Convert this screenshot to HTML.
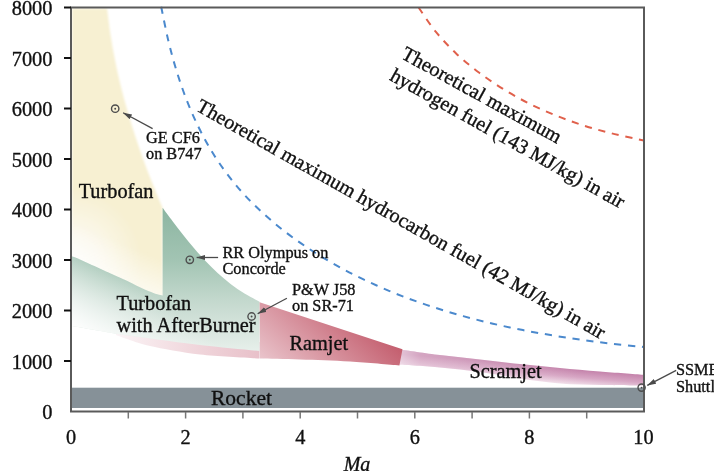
<!DOCTYPE html>
<html><head><meta charset="utf-8">
<style>
html,body{margin:0;padding:0;background:#fff;width:714px;height:471px;overflow:hidden}
svg{display:block;will-change:transform}
text{font-family:"Liberation Serif",serif;fill:#101010}
.t{stroke:#101010;stroke-width:0.35px}
</style></head>
<body>
<svg width="714" height="471" viewBox="0 0 714 471">
<defs>
<radialGradient id="gY" gradientUnits="userSpaceOnUse" cx="70" cy="262" r="72">
<stop offset="0" stop-color="#fdfcf8"/>
<stop offset="0.4" stop-color="#fbf8ec"/>
<stop offset="1" stop-color="#f7f0d2"/>
</radialGradient>
<linearGradient id="gYW" gradientUnits="userSpaceOnUse" x1="130" y1="246" x2="117" y2="276">
<stop offset="0" stop-color="#fff" stop-opacity="0"/>
<stop offset="1" stop-color="#fff" stop-opacity="0.6"/>
</linearGradient>
<filter id="fb" x="-5%" y="-5%" width="110%" height="110%"><feGaussianBlur stdDeviation="0.8"/></filter>
<linearGradient id="gG" gradientUnits="userSpaceOnUse" x1="0" y1="207" x2="0" y2="350">
<stop offset="0" stop-color="#8cb5a1"/>
<stop offset="0.37" stop-color="#a2c4b3"/>
<stop offset="0.65" stop-color="#c3d8cd"/>
<stop offset="1" stop-color="#e6efea"/>
</linearGradient>
<linearGradient id="gW" gradientUnits="userSpaceOnUse" x1="145" y1="290" x2="100" y2="350">
<stop offset="0" stop-color="#fff" stop-opacity="0"/>
<stop offset="1" stop-color="#fff" stop-opacity="1"/>
</linearGradient>
<linearGradient id="gP" gradientUnits="userSpaceOnUse" x1="115" y1="0" x2="260" y2="0">
<stop offset="0" stop-color="#fbf4f6"/>
<stop offset="0.5" stop-color="#f1d9de"/>
<stop offset="1" stop-color="#e8c0c9"/>
</linearGradient>
<linearGradient id="gR" gradientUnits="userSpaceOnUse" x1="251" y1="370.5" x2="328.7" y2="284.4">
<stop offset="0" stop-color="#efd3d9"/>
<stop offset="1" stop-color="#c45f6f"/>
</linearGradient>
<linearGradient id="gS" gradientUnits="userSpaceOnUse" x1="520" y1="364" x2="518.6" y2="381">
<stop offset="0" stop-color="#c27fa8"/>
<stop offset="0.5" stop-color="#d7a6c4"/>
<stop offset="1" stop-color="#f4e6ee"/>
</linearGradient>
<linearGradient id="gSW" gradientUnits="userSpaceOnUse" x1="399" y1="0" x2="580" y2="0">
<stop offset="0" stop-color="#fff" stop-opacity="0.55"/>
<stop offset="0.12" stop-color="#fff" stop-opacity="0.3"/>
<stop offset="1" stop-color="#fff" stop-opacity="0"/>
</linearGradient>
<marker id="ah" markerWidth="9" markerHeight="6" refX="8.7" refY="3" orient="auto" markerUnits="userSpaceOnUse">
<path d="M0,0.4 L9,3 L0,5.6 Z" fill="#4a4a4a"/>
</marker>
</defs>

<path d="M72 8.5 L107.1 8.5 C107.7 12.8 109.2 25.8 110.5 34.4 C111.8 43.0 113.3 51.5 115.0 60.0 C116.7 68.5 118.5 76.9 120.6 85.3 C122.6 93.7 124.9 102.0 127.3 110.3 C129.7 118.6 132.2 126.9 134.9 135.1 C137.6 143.3 140.4 151.5 143.3 159.6 C146.2 167.7 149.4 175.8 152.6 183.8 C155.8 191.8 160.9 203.8 162.6 207.8 L162.6 295.6 C161.7 295.4 159.7 295.0 157.4 294.3 C155.1 293.6 151.8 292.4 149.0 291.3 C146.2 290.2 143.3 288.8 140.5 287.5 C137.7 286.2 134.8 284.7 132.0 283.3 C129.2 281.9 126.8 280.7 123.5 279.2 C120.2 277.7 115.7 275.8 112.4 274.3 C109.2 272.9 106.8 271.8 104.0 270.5 C101.2 269.2 98.3 267.9 95.5 266.6 C92.7 265.3 89.8 264.1 87.0 262.8 C84.2 261.5 81.0 259.8 78.5 258.7 C76.0 257.6 73.1 256.9 72.0 256.5 Z" fill="url(#gY)" filter="url(#fb)"/>
<path d="M72 8.5 L107.1 8.5 C107.7 12.8 109.2 25.8 110.5 34.4 C111.8 43.0 113.3 51.5 115.0 60.0 C116.7 68.5 118.5 76.9 120.6 85.3 C122.6 93.7 124.9 102.0 127.3 110.3 C129.7 118.6 132.2 126.9 134.9 135.1 C137.6 143.3 140.4 151.5 143.3 159.6 C146.2 167.7 149.4 175.8 152.6 183.8 C155.8 191.8 160.9 203.8 162.6 207.8 L162.6 295.6 C161.7 295.4 159.7 295.0 157.4 294.3 C155.1 293.6 151.8 292.4 149.0 291.3 C146.2 290.2 143.3 288.8 140.5 287.5 C137.7 286.2 134.8 284.7 132.0 283.3 C129.2 281.9 126.8 280.7 123.5 279.2 C120.2 277.7 115.7 275.8 112.4 274.3 C109.2 272.9 106.8 271.8 104.0 270.5 C101.2 269.2 98.3 267.9 95.5 266.6 C92.7 265.3 89.8 264.1 87.0 262.8 C84.2 261.5 81.0 259.8 78.5 258.7 C76.0 257.6 73.1 256.9 72.0 256.5 Z" fill="url(#gYW)" filter="url(#fb)"/>
<path d="M116 330 L259.6 342 L259.6 358.5 C249.7 357.8 218.3 356.6 200.0 354.5 C181.7 352.4 162.2 348.6 150.0 346.0 C137.8 343.4 132.7 340.8 127.0 339.0 C121.3 337.2 117.8 335.7 116.0 335.0 Z" fill="url(#gP)"/>
<path d="M72.0 256.5 C73.1 256.9 76.0 257.6 78.5 258.7 C81.0 259.8 84.2 261.5 87.0 262.8 C89.8 264.1 92.7 265.3 95.5 266.6 C98.3 267.9 101.2 269.2 104.0 270.5 C106.8 271.8 109.2 272.9 112.4 274.3 C115.7 275.8 120.2 277.7 123.5 279.2 C126.8 280.7 129.2 281.9 132.0 283.3 C134.8 284.7 137.7 286.2 140.5 287.5 C143.3 288.8 146.2 290.2 149.0 291.3 C151.8 292.4 155.1 293.6 157.4 294.3 C159.7 295.0 161.7 295.4 162.6 295.6 L162.6 207.8 C164.3 210.1 169.4 216.9 172.8 221.4 C176.2 225.9 179.6 230.4 183.2 234.9 C186.8 239.4 190.4 243.9 194.1 248.2 C197.8 252.5 201.6 256.8 205.5 260.9 C209.4 265.0 213.4 269.1 217.6 272.9 C221.8 276.7 226.1 280.4 230.6 283.9 C235.1 287.3 239.7 290.6 244.5 293.6 C249.3 296.6 257.1 300.4 259.6 301.8 L259.6 351 C249.7 350.0 219.9 347.3 200.0 345.0 C180.1 342.7 153.7 338.8 140.0 337.0 C126.3 335.2 129.3 335.8 118.0 334.0 C106.7 332.2 79.7 327.3 72.0 326.0 Z" fill="url(#gG)"/>
<path d="M72.0 256.5 C73.1 256.9 76.0 257.6 78.5 258.7 C81.0 259.8 84.2 261.5 87.0 262.8 C89.8 264.1 92.7 265.3 95.5 266.6 C98.3 267.9 101.2 269.2 104.0 270.5 C106.8 271.8 109.2 272.9 112.4 274.3 C115.7 275.8 120.2 277.7 123.5 279.2 C126.8 280.7 129.2 281.9 132.0 283.3 C134.8 284.7 137.7 286.2 140.5 287.5 C143.3 288.8 146.2 290.2 149.0 291.3 C151.8 292.4 155.1 293.6 157.4 294.3 C159.7 295.0 161.7 295.4 162.6 295.6 L162.6 207.8 C164.3 210.1 169.4 216.9 172.8 221.4 C176.2 225.9 179.6 230.4 183.2 234.9 C186.8 239.4 190.4 243.9 194.1 248.2 C197.8 252.5 201.6 256.8 205.5 260.9 C209.4 265.0 213.4 269.1 217.6 272.9 C221.8 276.7 226.1 280.4 230.6 283.9 C235.1 287.3 239.7 290.6 244.5 293.6 C249.3 296.6 257.1 300.4 259.6 301.8 L259.6 351 C249.7 350.0 219.9 347.3 200.0 345.0 C180.1 342.7 153.7 338.8 140.0 337.0 C126.3 335.2 129.3 335.8 118.0 334.0 C106.7 332.2 79.7 327.3 72.0 326.0 Z" fill="url(#gW)"/>
<path d="M399.0 349.4 C405.8 350.3 426.5 353.3 440.0 355.0 C453.5 356.7 466.7 358.0 480.0 359.5 C493.3 361.0 506.7 362.6 520.0 364.0 C533.3 365.4 546.7 366.8 560.0 368.0 C573.3 369.2 586.2 370.4 600.0 371.5 C613.8 372.6 635.8 374.2 643.0 374.8 L643 385.5 C635.8 385.4 613.8 385.3 600.0 385.0 C586.2 384.7 573.3 384.6 560.0 383.5 C546.7 382.4 533.3 380.4 520.0 378.5 C506.7 376.6 493.3 373.8 480.0 372.0 C466.7 370.2 453.5 368.8 440.0 367.5 C426.5 366.2 405.8 365.0 399.0 364.5 Z" fill="url(#gS)"/>
<path d="M399.0 349.4 C405.8 350.3 426.5 353.3 440.0 355.0 C453.5 356.7 466.7 358.0 480.0 359.5 C493.3 361.0 506.7 362.6 520.0 364.0 C533.3 365.4 546.7 366.8 560.0 368.0 C573.3 369.2 586.2 370.4 600.0 371.5 C613.8 372.6 635.8 374.2 643.0 374.8 L643 385.5 C635.8 385.4 613.8 385.3 600.0 385.0 C586.2 384.7 573.3 384.6 560.0 383.5 C546.7 382.4 533.3 380.4 520.0 378.5 C506.7 376.6 493.3 373.8 480.0 372.0 C466.7 370.2 453.5 368.8 440.0 367.5 C426.5 366.2 405.8 365.0 399.0 364.5 Z" fill="url(#gSW)"/>
<path d="M259.6 302.3 L402.5 349.2 L399.4 365.5 C391.2 364.8 366.6 362.5 350.0 361.5 C333.4 360.5 315.0 360.0 300.0 359.5 C285.0 359.0 266.7 358.7 260.0 358.5 Z" fill="url(#gR)"/>
<rect x="72" y="387.7" width="571" height="20.3" fill="#869198"/>
<path d="M161.1 6.5 C162.3 12.0 165.6 29.2 168.1 39.7 C170.6 50.2 173.1 59.6 176.1 69.4 C179.1 79.2 182.4 89.0 186.1 98.6 C189.8 108.2 193.9 117.6 198.4 126.8 C202.9 136.0 207.8 145.0 213.1 153.6 C218.4 162.2 224.3 170.5 230.5 178.4 C236.7 186.3 243.4 194.0 250.5 201.2 C257.6 208.4 265.1 215.2 272.8 221.8 C280.5 228.4 288.6 234.6 296.9 240.5 C305.2 246.4 313.8 252.0 322.5 257.3 C331.2 262.6 340.1 267.6 349.1 272.3 C358.1 277.0 367.4 281.4 376.7 285.5 C386.0 289.6 395.4 293.6 404.9 297.2 C414.4 300.8 424.1 304.1 433.8 307.3 C443.5 310.5 453.4 313.4 463.2 316.1 C473.0 318.8 482.9 321.4 492.9 323.7 C502.8 326.0 512.9 328.1 522.9 330.1 C532.9 332.1 543.0 333.8 553.1 335.5 C563.2 337.2 573.2 338.7 583.3 340.1 C593.3 341.5 603.4 342.8 613.4 343.9 C623.4 345.0 638.4 346.5 643.4 347.0" fill="none" stroke="#4b89cd" stroke-width="2" stroke-dasharray="7.2 6.78" stroke-dashoffset="-0.4"/>
<path d="M418.6 7.5 C421.5 11.5 429.4 24.0 435.7 31.6 C441.9 39.2 448.8 46.5 456.1 53.4 C463.4 60.3 471.3 66.8 479.3 72.8 C487.3 78.8 495.8 84.5 504.3 89.7 C512.8 94.9 521.4 99.7 530.3 104.1 C539.2 108.5 548.4 112.5 557.6 116.2 C566.9 119.9 576.3 123.2 585.8 126.2 C595.3 129.2 605.0 131.7 614.7 134.1 C624.4 136.5 638.9 139.4 643.8 140.5" fill="none" stroke="#e0604b" stroke-width="2" stroke-dasharray="7.2 6.7"/>

<path d="M71 7.5 L644 7.5 L644 411.5 L71 411.5 Z" stroke="#5a5a5a" stroke-width="2" fill="none"/>
<g stroke="#111" stroke-width="2">
<line x1="64" y1="361.0" x2="71" y2="361.0"/>
<line x1="64" y1="310.5" x2="71" y2="310.5"/>
<line x1="64" y1="260.0" x2="71" y2="260.0"/>
<line x1="64" y1="209.5" x2="71" y2="209.5"/>
<line x1="64" y1="159.0" x2="71" y2="159.0"/>
<line x1="64" y1="108.5" x2="71" y2="108.5"/>
<line x1="64" y1="58.0" x2="71" y2="58.0"/>
<line x1="64" y1="7.5" x2="71" y2="7.5"/>
</g>
<g stroke="#777" stroke-width="1.5">
<line x1="128.3" y1="412" x2="128.3" y2="418.5"/>
<line x1="185.6" y1="412" x2="185.6" y2="418.5"/>
<line x1="242.9" y1="412" x2="242.9" y2="418.5"/>
<line x1="300.2" y1="412" x2="300.2" y2="418.5"/>
<line x1="357.5" y1="412" x2="357.5" y2="418.5"/>
<line x1="414.8" y1="412" x2="414.8" y2="418.5"/>
<line x1="472.1" y1="412" x2="472.1" y2="418.5"/>
<line x1="529.4" y1="412" x2="529.4" y2="418.5"/>
<line x1="586.7" y1="412" x2="586.7" y2="418.5"/>
</g>
<g class="t" font-size="20.4" text-anchor="end">
<text x="52.5" y="419.1">0</text>
<text x="52.5" y="368.6">1000</text>
<text x="52.5" y="318.1">2000</text>
<text x="52.5" y="267.6">3000</text>
<text x="52.5" y="217.1">4000</text>
<text x="52.5" y="166.6">5000</text>
<text x="52.5" y="116.1">6000</text>
<text x="52.5" y="65.6">7000</text>
<text x="52.5" y="15.1">8000</text>
</g>
<g class="t" font-size="20.3" text-anchor="middle">
<text x="71.0" y="444.3">0</text>
<text x="185.6" y="444.3">2</text>
<text x="300.2" y="444.3">4</text>
<text x="414.8" y="444.3">6</text>
<text x="529.4" y="444.3">8</text>
<text x="643.5" y="444.3">10</text>
</g>
<text class="t" x="357" y="471.3" font-size="20" font-style="italic" text-anchor="middle">Ma</text>

<g class="t" font-size="20.3">
<text x="78.7" y="197.6">Turbofan</text>
<text x="116.5" y="309.6">Turbofan</text>
<text x="116.5" y="331.6">with AfterBurner</text>
<text x="289.5" y="349.7">Ramjet</text>
<text x="469.5" y="377.7">Scramjet</text>
<text x="211" y="404.9" font-size="21.5">Rocket</text>
</g>
<g class="t" font-size="16.3">
<text x="146" y="142.6">GE CF6</text>
<text x="146" y="158.5">on B747</text>
<text x="222.5" y="257.6">RR Olympus on</text>
<text x="222.5" y="273.5">Concorde</text>
<text x="292" y="294.8">P&amp;W J58</text>
<text x="292" y="310.8">on SR-71</text>
<text x="676" y="375.2">SSME</text>
<text x="676" y="391.7">Shuttle</text>
</g>
<g fill="none" stroke="#4d4d4d" stroke-width="1.4">
<circle cx="115.2" cy="108.7" r="3.7"/>
<circle cx="189.8" cy="259.8" r="3.7"/>
<circle cx="251.6" cy="316.5" r="3.7"/>
<circle cx="641.6" cy="387.6" r="3.6"/>
</g>
<g fill="#4a4a4a">
<circle cx="115.2" cy="108.7" r="0.95"/>
<circle cx="189.8" cy="259.8" r="0.95"/>
<circle cx="251.6" cy="316.5" r="0.95"/>
<circle cx="641.6" cy="387.6" r="0.95"/>
</g>
<g stroke="#4a4a4a" stroke-width="1.3" marker-end="url(#ah)">
<line x1="152.6" y1="128.6" x2="123.2" y2="112.8"/>
<line x1="218.1" y1="257.5" x2="196.7" y2="257.5"/>
<line x1="286.9" y1="298.3" x2="257.7" y2="313.7"/>
<line x1="676.2" y1="370.3" x2="647.3" y2="385.4"/>
</g>

<g class="t" font-size="20.2">
<text transform="translate(400.3,57.7) rotate(28.8)">Theoretical maximum</text>
<text transform="translate(388.7,79.4) rotate(29.2)">hydrogen fuel (143 MJ/kg) in air</text>
<text font-size="20.25" transform="translate(195,110) rotate(29.5)">Theoretical maximum hydrocarbon fuel (42 MJ/kg) in air</text>
</g>
</svg>
</body></html>
